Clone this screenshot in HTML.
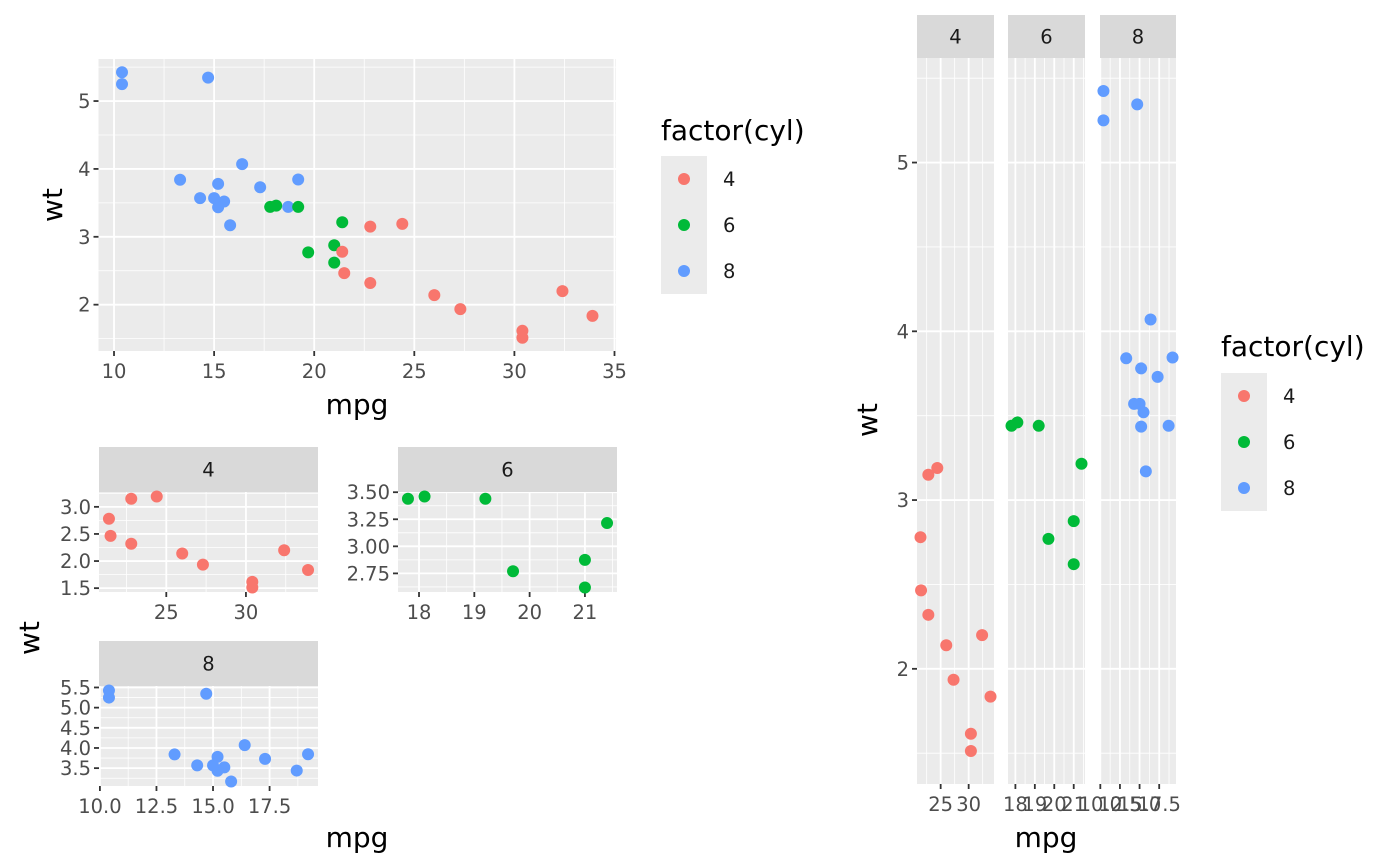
<!DOCTYPE html>
<html><head><meta charset="utf-8"><style>body{margin:0;background:#fff}svg{display:block}text{font-family:"DejaVu Sans","Liberation Sans",sans-serif}</style></head>
<body><svg id="s" width="1400" height="866" xmlns="http://www.w3.org/2000/svg"></svg>
<script>
const D=[[21,2.62,6],[21,2.875,6],[22.8,2.32,4],[21.4,3.215,6],[18.7,3.44,8],[18.1,3.46,6],[14.3,3.57,8],[24.4,3.19,4],[22.8,3.15,4],[19.2,3.44,6],[17.8,3.44,6],[16.4,4.07,8],[17.3,3.73,8],[15.2,3.78,8],[10.4,5.25,8],[10.4,5.424,8],[14.7,5.345,8],[32.4,2.2,4],[30.4,1.615,4],[33.9,1.835,4],[21.5,2.465,4],[15.5,3.52,8],[15.2,3.435,8],[13.3,3.84,8],[19.2,3.845,8],[27.3,1.935,4],[26,2.14,4],[30.4,1.513,4],[15.8,3.17,8],[19.7,2.77,6],[15,3.57,8],[21.4,2.78,4]];
const C={4:"#F8766D",6:"#00BA38",8:"#619CFF"};
const FS=19.5;
let h="";
function panel(o){
 const sx=v=>o.px[0]+(v-o.xd[0])/(o.xd[1]-o.xd[0])*(o.px[1]-o.px[0]);
 const sy=v=>o.py[1]-(v-o.yd[0])/(o.yd[1]-o.yd[0])*(o.py[1]-o.py[0]);
 h+=`<rect x="${o.px[0]}" y="${o.py[0]}" width="${o.px[1]-o.px[0]}" height="${o.py[1]-o.py[0]}" fill="#EBEBEB"/>`;
 const minor=(b)=>{let s=b[1]-b[0],r=[];for(let v=b[0]-s/2;v<=b[b.length-1]+s;v+=s)r.push(v);return r;};
 for(const v of minor(o.xb)){const x=sx(v);if(x>o.px[0]&&x<o.px[1])h+=`<line x1="${x}" x2="${x}" y1="${o.py[0]}" y2="${o.py[1]}" stroke="#fff" stroke-width="0.8"/>`;}
 for(const v of minor(o.yb)){const y=sy(v);if(y>o.py[0]&&y<o.py[1])h+=`<line y1="${y}" y2="${y}" x1="${o.px[0]}" x2="${o.px[1]}" stroke="#fff" stroke-width="0.8"/>`;}
 o.xb.forEach((v,i)=>{const x=sx(v);if(x<o.px[0]-0.5||x>o.px[1]+0.5)return;h+=`<line x1="${x}" x2="${x}" y1="${o.py[0]}" y2="${o.py[1]}" stroke="#fff" stroke-width="1.8"/>`;
  if(o.xl!==false){h+=`<line x1="${x}" x2="${x}" y1="${o.py[1]}" y2="${o.py[1]+5}" stroke="#333" stroke-width="1.8"/><text x="${x}" y="${o.py[1]+27}" font-size="${FS}" fill="#4D4D4D" text-anchor="middle">${o.xt[i]}</text>`;}});
 o.yb.forEach((v,i)=>{const y=sy(v);if(y<o.py[0]-0.5||y>o.py[1]+0.5)return;h+=`<line y1="${y}" y2="${y}" x1="${o.px[0]}" x2="${o.px[1]}" stroke="#fff" stroke-width="1.8"/>`;
  if(o.yl!==false){h+=`<line y1="${y}" y2="${y}" x1="${o.px[0]-5}" x2="${o.px[0]}" stroke="#333" stroke-width="1.8"/><text x="${o.px[0]-8}" y="${y+7}" font-size="${FS}" fill="#4D4D4D" text-anchor="end">${o.yt[i]}</text>`;}});
 if(o.strip){h+=`<rect x="${o.px[0]}" y="${o.strip[0]}" width="${o.px[1]-o.px[0]}" height="${o.strip[1]-o.strip[0]}" fill="#D9D9D9"/><text x="${(o.px[0]+o.px[1])/2}" y="${(o.strip[0]+o.strip[1])/2+7}" font-size="${FS}" fill="#1A1A1A" text-anchor="middle">${o.s}</text>`;}
 for(const d of D){if(o.cyl&&d[2]!=o.cyl)continue;h+=`<circle cx="${sx(d[0])}" cy="${sy(d[1])}" r="6" fill="${C[d[2]]}"/>`;}
}
const yall=[1.3175,5.6195];
panel({px:[98.5,616],py:[59,351],xd:[9.225,35.075],yd:yall,xb:[10,15,20,25,30,35],xt:["10","15","20","25","30","35"],yb:[2,3,4,5],yt:["2","3","4","5"]});
panel({px:[917,994],py:[58,784],xd:[20.775,34.525],yd:yall,xb:[25,30],xt:["25","30"],yb:[2,3,4,5],yt:["2","3","4","5"],cyl:4,strip:[15,58],s:"4"});
panel({px:[1008,1085],py:[58,784],xd:[17.62,21.58],yd:yall,xb:[18,19,20,21],xt:["18","19","20","21"],yb:[2,3,4,5],yl:false,cyl:6,strip:[15,58],s:"6"});
panel({px:[1100,1176],py:[58,784],xd:[9.96,19.64],yd:yall,xb:[10,12.5,15,17.5],xt:["10.0","12.5","15.0","17.5"],yb:[2,3,4,5],yl:false,cyl:8,strip:[15,58],s:"8"});
panel({px:[99,318],py:[492,592],xd:[20.775,34.525],yd:[1.42915,3.27385],xb:[25,30],xt:["25","30"],yb:[1.5,2,2.5,3],yt:["1.5","2.0","2.5","3.0"],cyl:4,strip:[447,492],s:"4"});
panel({px:[398,617],py:[492,592],xd:[17.62,21.58],yd:[2.578,3.502],xb:[18,19,20,21],xt:["18","19","20","21"],yb:[2.75,3,3.25,3.5],yt:["2.75","3.00","3.25","3.50"],cyl:6,strip:[447,492],s:"6"});
panel({px:[99,318],py:[686,786],xd:[9.96,19.64],yd:[3.0573,5.5367],xb:[10,12.5,15,17.5],xt:["10.0","12.5","15.0","17.5"],yb:[3.5,4,4.5,5,5.5],yt:["3.5","4.0","4.5","5.0","5.5"],cyl:8,strip:[641,686],s:"8"});
const TS=28;
h+=`<text x="357" y="414" font-size="${TS}" text-anchor="middle">mpg</text>`;
h+=`<text transform="translate(62,205) rotate(-90)" font-size="${TS}" text-anchor="middle">wt</text>`;
h+=`<text x="357" y="847" font-size="${TS}" text-anchor="middle">mpg</text>`;
h+=`<text transform="translate(39,638) rotate(-90)" font-size="${TS}" text-anchor="middle">wt</text>`;
h+=`<text x="1046" y="847" font-size="${TS}" text-anchor="middle">mpg</text>`;
h+=`<text transform="translate(877,420) rotate(-90)" font-size="${TS}" text-anchor="middle">wt</text>`;
function legend(x,ty,ky){
 h+=`<text x="${x}" y="${ty}" font-size="${TS}">factor(cyl)</text><rect x="${x}" y="${ky}" width="46" height="138" fill="#EBEBEB"/>`;
 [4,6,8].forEach((c,i)=>{const cy=ky+23+i*46;h+=`<circle cx="${x+23}" cy="${cy}" r="6" fill="${C[c]}"/><text x="${x+62}" y="${cy+7}" font-size="${FS}" fill="#1A1A1A">${c}</text>`;});
}
legend(661,140,156);
legend(1221,356,373);
document.getElementById("s").innerHTML=h;
</script></body></html>
